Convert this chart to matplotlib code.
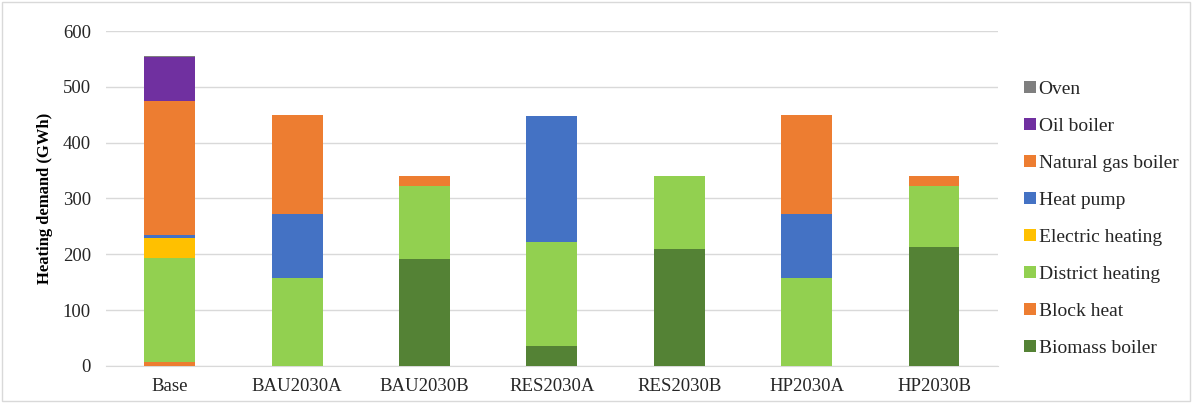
import numpy as np
import matplotlib
matplotlib.use("Agg")
import matplotlib.pyplot as plt
from matplotlib.patches import Rectangle

plt.rcParams['font.family'] = ['Liberation Serif', 'DejaVu Serif']

# 情景名称
scenarios = ['Base', 'BAU2030A', 'BAU2030B', 'RES2030A', 'RES2030B', 'HP2030A', 'HP2030B']

# 各技术的供热量 (GWh)，从下往上堆叠
biomass_boiler = [0, 0, 192, 35, 210, 0, 213]
block_heat = [7, 0, 0, 0, 0, 0, 0]
district_heating = [186, 157, 131, 187, 131, 157, 110]
electric_heating = [37, 0, 0, 0, 0, 0, 0]
heat_pump = [5, 115, 0, 226, 0, 115, 0]
natural_gas_boiler = [240, 177, 18, 0, 0, 177, 18]
oil_boiler = [78, 0, 0, 0, 0, 0, 0]
oven = [2, 0, 0, 0, 0, 0, 0]

series = [
    ('Biomass boiler', biomass_boiler, '#548235'),
    ('Block heat', block_heat, '#ED7D31'),
    ('District heating', district_heating, '#92D050'),
    ('Electric heating', electric_heating, '#FFC000'),
    ('Heat pump', heat_pump, '#4472C4'),
    ('Natural gas boiler', natural_gas_boiler, '#ED7D31'),
    ('Oil boiler', oil_boiler, '#7030A0'),
    ('Oven', oven, '#7F7F7F'),
]

fig = plt.figure(figsize=(11.92, 4.03), dpi=100)
ax = fig.add_axes([0.089, 0.092, 0.748, 0.831])

x = np.arange(len(scenarios))
bottom = np.zeros(len(scenarios))
handles = []
for name, vals, col in series:
    b = ax.bar(x, vals, width=0.4, bottom=bottom, color=col, label=name, zorder=3)
    bottom += np.array(vals)
    handles.append(b)

ax.set_ylim(0, 600)
ax.set_xlim(-0.5, len(scenarios) - 0.5)
ax.set_yticks(np.arange(0, 601, 100))
ax.set_xticks(x)
ax.set_xticklabels(scenarios)
ax.tick_params(axis='both', length=0, labelsize=13.5, colors='#000000')
ax.tick_params(axis='y', pad=11)
ax.tick_params(axis='x', pad=9)
for t in ax.get_xticklabels() + ax.get_yticklabels():
    t.set_color('#262626')
ax.yaxis.grid(True, color='#D9D9D9', linewidth=1, zorder=0)
for s in ['top', 'right', 'left']:
    ax.spines[s].set_visible(False)
ax.spines['bottom'].set_color('#D9D9D9')
ax.set_ylabel('Heating demand (GWh)', fontsize=12, fontweight='bold', labelpad=7)

leg = fig.legend(handles[::-1], [s[0] for s in series][::-1],
                 loc='upper left', bbox_to_anchor=(0.859, 0.80), frameon=False,
                 borderaxespad=0, borderpad=0,
                 fontsize=14, handlelength=0.6, handleheight=0.6, handletextpad=0.15,
                 labelspacing=1.03)
for t in leg.get_texts():
    t.set_color('#262626')

# 图表外框
fig.patches.append(Rectangle((0.002, 0.004), 0.996, 0.99, transform=fig.transFigure,
                             fill=False, edgecolor='#D9D9D9', linewidth=1))

fig.savefig('out.png', dpi=100)
